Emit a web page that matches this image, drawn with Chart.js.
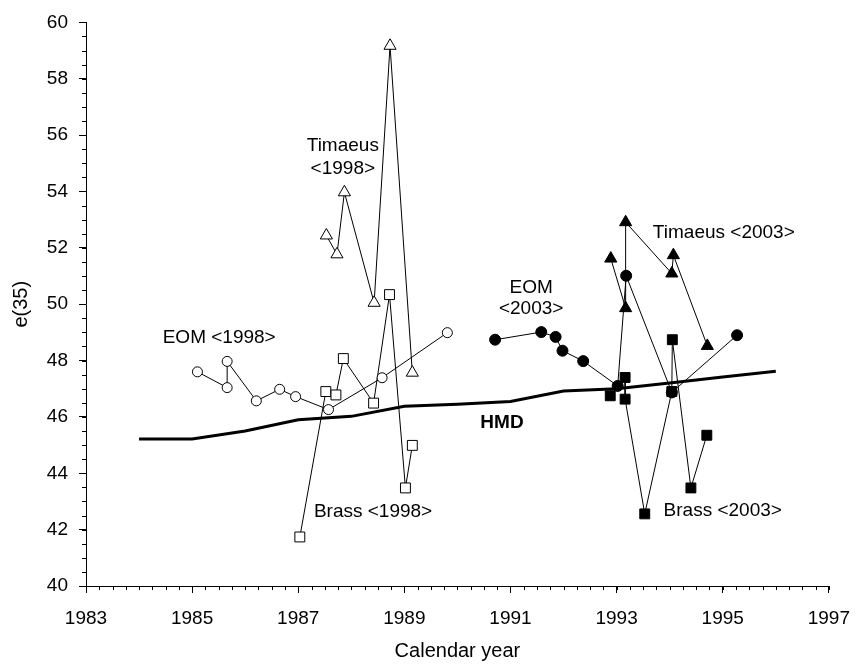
<!DOCTYPE html>
<html>
<head>
<meta charset="utf-8">
<title>e(35) by calendar year</title>
<script src="https://cdn.jsdelivr.net/npm/chart.js@4.4.1/dist/chart.umd.min.js"></script>
<style>
    html, body { margin: 0; padding: 0; background: #fff; }
    #wrap { width: 864px; height: 671px; }
</style>
</head>
<body>
<div id="wrap"><canvas id="chart" width="864" height="671"></canvas></div>
<script>
// tick labels
const xTicks = [1983, 1985, 1987, 1989, 1991, 1993, 1995, 1997];
const yTicks = [40, 42, 44, 46, 48, 50, 52, 54, 56, 58, 60];

// EOM <1998> (open circles)
const eom1998Years = [1985.1, 1985.66, 1985.66, 1986.21, 1986.65, 1986.95, 1987.57, 1988.58, 1989.81];
const eom1998Values = [47.6, 47.04, 47.97, 46.57, 46.98, 46.72, 46.26, 47.39, 48.99];

// Brass <1998> (open squares)
const brass1998Years = [1987.03, 1987.52, 1987.71, 1987.85, 1988.42, 1988.72, 1989.02, 1989.15];
const brass1998Values = [41.74, 46.9, 46.78, 48.07, 46.49, 50.34, 43.48, 44.99];

// Timaeus <1998> (open triangles)
const timaeus1998Years = [1987.53, 1987.73, 1987.87, 1988.43, 1988.73, 1989.15];
const timaeus1998Values = [52.44, 51.77, 53.97, 50.05, 59.17, 47.57];

// EOM <2003> (filled circles)
const eom2003Years = [1990.71, 1991.58, 1991.85, 1991.98, 1992.37, 1993.02, 1993.18, 1994.04, 1995.27];
const eom2003Values = [48.74, 49.01, 48.84, 48.35, 47.98, 47.1, 51.01, 46.87, 48.9];

// Brass <2003> (filled squares)
const brass2003Years = [1992.88, 1993.16, 1993.16, 1993.53, 1994.04, 1994.05, 1994.4, 1994.7];
const brass2003Values = [46.75, 47.4, 46.63, 42.56, 46.9, 48.74, 43.48, 45.35];

// Timaeus <2003> (filled triangles)
const timaeus2003Years = [1992.89, 1993.17, 1993.17, 1994.04, 1994.07, 1994.71];
const timaeus2003Values = [51.62, 49.86, 52.91, 51.09, 51.74, 48.52];

// HMD (thick line)
const hmdYears = [1984, 1985, 1986, 1987, 1988, 1989, 1990, 1991, 1992, 1993, 1994, 1995, 1996];
const hmdValues = [45.22, 45.22, 45.5, 45.9, 46.02, 46.38, 46.45, 46.55, 46.92, 47.0, 47.2, 47.42, 47.62];

// text labels in the plot
const noteTexts = ['Timaeus', '<1998>', 'EOM <1998>', 'Brass <1998>', 'EOM', '<2003>', 'Timaeus <2003>', 'Brass <2003>', 'HMD'];
const noteYears = [1987.84, 1987.84, 1985.51, 1988.41, 1991.39, 1991.39, 1995.02, 1995.0, 1990.84];
const noteValues = [55.63, 54.82, 48.8, 42.62, 50.58, 49.84, 52.54, 42.68, 45.79];

const FONT = "'Liberation Sans', Arial, sans-serif";

function toPoints(xs, ys) {
    return xs.map((x, i) => ({ x: x, y: ys[i] }));
}

function series(label, xs, ys, shape, radius, filled) {
    return {
        label: label,
        data: toPoints(xs, ys),
        showLine: true,
        borderColor: '#000',
        borderWidth: 1,
        pointStyle: shape,
        pointRadius: radius,
        pointBackgroundColor: filled ? '#000' : '#fff',
        pointBorderColor: '#000',
        pointBorderWidth: 1
    };
}

// small ticks between the labelled ones
const minorTicks = {
    id: 'minorTicks',
    afterDraw(chart) {
        const ctx = chart.ctx;
        const x = chart.scales.x;
        const y = chart.scales.y;
        ctx.save();
        ctx.strokeStyle = '#000';
        ctx.lineWidth = 1;
        ctx.beginPath();
        for (let v = 1983; v <= 1997; v += 0.25) {
            const px = Math.round(x.getPixelForValue(v)) + 0.5;
            ctx.moveTo(px, y.bottom);
            ctx.lineTo(px, y.bottom + 4);
        }
        for (let v = 40; v <= 60; v += 0.5) {
            const py = Math.round(y.getPixelForValue(v)) + 0.5;
            ctx.moveTo(x.left, py);
            ctx.lineTo(x.left - 4, py);
        }
        ctx.stroke();
        ctx.restore();
    }
};

const notes = {
    id: 'notes',
    afterDatasetsDraw(chart) {
        const ctx = chart.ctx;
        const x = chart.scales.x;
        const y = chart.scales.y;
        ctx.save();
        ctx.fillStyle = '#000';
        ctx.textAlign = 'center';
        ctx.textBaseline = 'middle';
        for (let i = 0; i < noteTexts.length; i++) {
            ctx.font = (noteTexts[i] === 'HMD' ? 'bold ' : '') + '19px ' + FONT;
            ctx.fillText(noteTexts[i], x.getPixelForValue(noteYears[i]), y.getPixelForValue(noteValues[i]));
        }
        ctx.restore();
    }
};

new Chart(document.getElementById('chart'), {
    type: 'scatter',
    data: {
        datasets: [
            series('EOM <1998>', eom1998Years, eom1998Values, 'circle', 5, false),
            series('Brass <1998>', brass1998Years, brass1998Values, 'rect', 7, false),
            series('Timaeus <1998>', timaeus1998Years, timaeus1998Values, 'triangle', 7, false),
            series('EOM <2003>', eom2003Years, eom2003Values, 'circle', 5.5, true),
            series('Brass <2003>', brass2003Years, brass2003Values, 'rect', 7, true),
            series('Timaeus <2003>', timaeus2003Years, timaeus2003Values, 'triangle', 7, true),
            {
                label: 'HMD',
                data: toPoints(hmdYears, hmdValues),
                showLine: true,
                borderColor: '#000',
                borderWidth: 3,
                pointRadius: 0
            }
        ]
    },
    options: {
        responsive: false,
        animation: false,
        layout: { padding: { top: 18, right: 26, left: 0, bottom: 0 } },
        plugins: {
            legend: { display: false },
            tooltip: { enabled: false }
        },
        scales: {
            x: {
                type: 'linear',
                min: xTicks[0],
                max: xTicks[xTicks.length - 1],
                afterBuildTicks: s => { s.ticks = xTicks.map(v => ({ value: v })); },
                afterFit: s => { s.height = 85; },
                border: { color: '#000', width: 1 },
                grid: { drawOnChartArea: false, color: '#000', tickColor: '#000', tickLength: 7 },
                ticks: {
                    color: '#000',
                    font: { family: FONT, size: 19 },
                    padding: 14,
                    maxRotation: 0,
                    callback: v => String(v)
                },
                title: {
                    display: true,
                    text: 'Calendar year',
                    color: '#000',
                    font: { family: FONT, size: 20 },
                    padding: { top: 0, bottom: 8 }
                }
            },
            y: {
                type: 'linear',
                min: yTicks[0],
                max: yTicks[yTicks.length - 1],
                afterBuildTicks: s => { s.ticks = yTicks.map(v => ({ value: v })); },
                afterFit: s => { s.width = 86; },
                border: { color: '#000', width: 1 },
                grid: { drawOnChartArea: false, color: '#000', tickColor: '#000', tickLength: 7 },
                ticks: {
                    color: '#000',
                    font: { family: FONT, size: 19 },
                    padding: 11,
                    callback: v => String(v)
                },
                title: {
                    display: true,
                    text: 'e(35)',
                    color: '#000',
                    font: { family: FONT, size: 20 },
                    padding: { top: 9, bottom: 0 }
                }
            }
        }
    },
    plugins: [minorTicks, notes]
});
</script>
</body>
</html>
